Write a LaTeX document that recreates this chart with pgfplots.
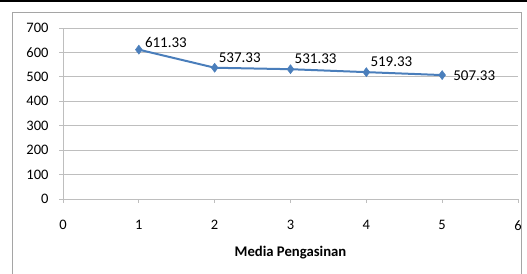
\documentclass[border=0pt]{standalone}
\usepackage{pgfplots}
\pgfplotsset{compat=1.18}
\usepackage{fontspec}
\setmainfont{Carlito}
\definecolor{lineblue}{RGB}{74,126,187}
\definecolor{gridgray}{RGB}{190,190,190}
\definecolor{framegray}{RGB}{165,165,165}
\pgfplotsset{lbl/.style={draw=none, mark=none, nodes near coords, point meta=explicit symbolic,
  every node near coord/.append style={font=\fontsize{15}{17}\selectfont, inner sep=1pt, text=black}}}
\begin{document}
\begin{tikzpicture}[x=1pt,y=1pt]
\clip (0,0) rectangle (527,273);
\draw[line width=1.3pt] (0,272) -- (527,272);
\draw[line width=0.8pt] (210,271) -- (210,273);
\draw[line width=0.8pt] (395,271) -- (395,273);
\draw[framegray, line width=0.9pt] (12.5,-5) rectangle (521.7,261);
\begin{axis}[
  at={(63pt,74pt)}, anchor=origin,
  scale only axis, width=455pt, height=171pt,
  xmin=0, xmax=6, ymin=0, ymax=700,
  xtick={0,1,...,6}, ytick={0,100,...,700},
  axis x line*=bottom, axis y line*=left,
  axis line style={gridgray, line width=0.9pt, -},
  ymajorgrids, grid style={gridgray, line width=0.9pt},
  tick align=outside, major tick length=4pt,
  tick style={gridgray, line width=0.8pt},
  /pgf/number format/assume math mode=true,
  ticklabel style={font=\fontsize{14.5}{16}\selectfont},
  xticklabel style={yshift=-14pt},
  yticklabel style={xshift=-7pt},
  xlabel={\textbf{Media Pengasinan}},
  xlabel style={font=\fontsize{14.7}{17}\selectfont, yshift=-9pt},
  clip=false,
]
\addplot[lineblue, line width=2pt, mark=diamond*, mark size=4.5pt,
  mark options={fill=lineblue, draw=lineblue, line width=0.5pt}]
  coordinates {(1,611.33) (2,537.33) (3,531.33) (4,519.33) (5,507.33)};
\addplot[lbl, every node near coord/.append style={anchor=south west, xshift=5pt, yshift=1pt}]
  coordinates {(1,611.33)[611.33]};
\addplot[lbl, every node near coord/.append style={anchor=south west, xshift=3pt, yshift=4pt}]
  coordinates {(2,537.33)[537.33] (3,531.33)[531.33] (4,519.33)[519.33]};
\addplot[lbl, every node near coord/.append style={anchor=west, xshift=10pt, yshift=-1pt}]
  coordinates {(5,507.33)[507.33]};
\end{axis}
\end{tikzpicture}
\end{document}
